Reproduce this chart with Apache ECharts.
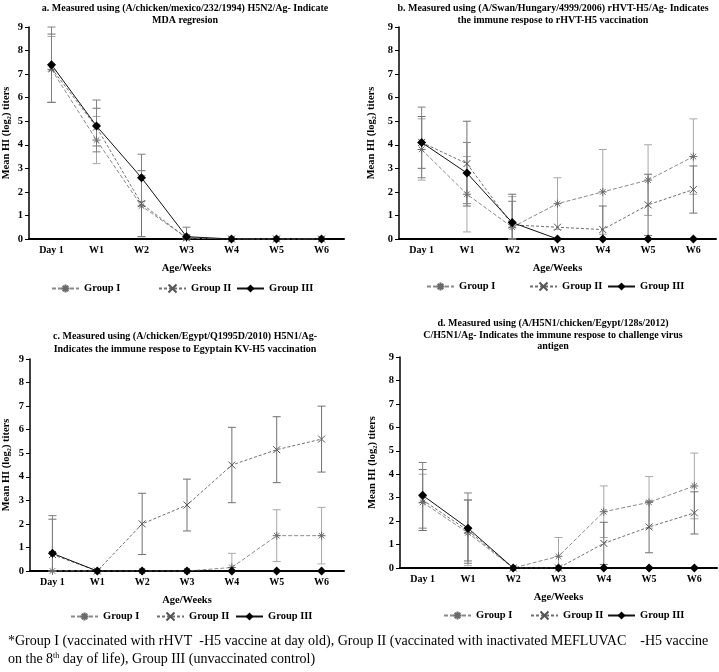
<!DOCTYPE html>
<html>
<head>
<meta charset="utf-8"/>
<title>HI titers</title>
<script src="https://cdn.jsdelivr.net/npm/echarts@6/dist/echarts.min.js"></script>
<style>
    html, body { margin: 0; padding: 0; background: #fff; }
    #main { width: 719px; height: 672px; }
</style>
</head>
<body>
<div id="main"></div>
<script>
    // x categories
    var weeks = ['Day 1', 'W1', 'W2', 'W3', 'W4', 'W5', 'W6'];
    var yTicks = [0, 1, 2, 3, 4, 5, 6, 7, 8, 9];

    // panel a - mean and error
    var aG1 = [7.2, 4.2, 1.4, 0.05, 0, 0, 0];
    var aG1Err = [1.4, 1.0, 1.3, 0, 0, 0, 0];
    var aG2 = [7.25, 4.75, 1.5, 0.05, 0, 0, 0];
    var aG2Err = [1.45, 0.8, 1.4, 0, 0, 0, 0];
    var aG3 = [7.4, 4.8, 2.6, 0.1, 0, 0, 0];
    var aG3Err = [1.6, 1.1, 1.0, 0.4, 0, 0, 0];

    // panel b
    var bG1 = [3.8, 1.9, 0.5, 1.5, 2.0, 2.5, 3.5];
    var bG1Err = [1.3, 1.6, 1.3, 1.1, 1.8, 1.5, 1.6];
    var bG2 = [4.1, 3.2, 0.6, 0.5, 0.4, 1.45, 2.1];
    var bG2Err = [1.1, 1.8, 1.3, 0, 1.0, 1.3, 1.0];
    var bG3 = [4.1, 2.8, 0.7, 0, 0, 0, 0];
    var bG3Err = [1.5, 1.3, 0.9, 0, 0, 0, 0];

    // panel c
    var cG1 = [0, 0, 0, 0, 0.15, 1.5, 1.5];
    var cG1Err = [0, 0, 0, 0, 0.6, 1.1, 1.2];
    var cG2 = [0.7, 0, 2.0, 2.8, 4.5, 5.15, 5.6];
    var cG2Err = [1.5, 0, 1.3, 1.1, 1.6, 1.4, 1.4];
    var cG3 = [0.75, 0, 0, 0, 0, 0, 0];
    var cG3Err = [1.6, 0, 0, 0, 0, 0, 0];

    // panel d
    var dG1 = [2.8, 1.5, 0, 0.5, 2.4, 2.8, 3.5];
    var dG1Err = [1.2, 1.4, 0, 0.8, 1.1, 1.1, 1.4];
    var dG2 = [2.9, 1.6, 0, 0, 1.05, 1.75, 2.35];
    var dG2Err = [1.3, 1.3, 0, 0, 0.9, 1.1, 0.9];
    var dG3 = [3.1, 1.7, 0, 0, 0, 0, 0];
    var dG3Err = [1.4, 1.5, 0, 0, 0, 0, 0];

    var serif = '"Liberation Serif", "DejaVu Serif", serif';
    var starPath = 'path://M0,5L10,5M5,0L5,10M1.5,1.5L8.5,8.5M8.5,1.5L1.5,8.5';
    var crossPath = 'path://M1,1L9,9M9,1L1,9';

    var grids = [
        {left: 27, top: 27, width: 317, height: 212},
        {left: 399, top: 27, width: 317, height: 212},
        {left: 27, top: 359, width: 317, height: 212},
        {left: 400, top: 357, width: 317, height: 211}
    ];
    var yNameGap = [17, 22, 18, 22];

    var xAxes = [], yAxes = [];
    grids.forEach(function (g, i) {
        xAxes.push({
            type: 'category', gridIndex: i, data: weeks,
            name: 'Age/Weeks', nameLocation: 'middle', nameGap: 24,
            nameTextStyle: {fontFamily: serif, fontWeight: 'bold', fontSize: 10.5, color: '#000'},
            axisLine: {lineStyle: {color: '#000', width: 2}},
            axisTick: {alignWithLabel: true, length: 4, lineStyle: {color: '#000'}},
            axisLabel: {fontFamily: serif, fontWeight: 'bold', fontSize: 10, color: '#000', margin: 6}
        });
        yAxes.push({
            type: 'value', gridIndex: i, min: 0, max: 9, interval: 1,
            name: 'Mean HI (log₂) titers', nameLocation: 'middle', nameGap: yNameGap[i],
            nameTextStyle: {fontFamily: serif, fontWeight: 'bold', fontSize: 10.5, color: '#000'},
            axisLine: {show: true, lineStyle: {color: '#000', width: 1.5}},
            axisTick: {show: true, length: 4, lineStyle: {color: '#000'}},
            axisLabel: {fontFamily: serif, fontWeight: 'bold', fontSize: 10.5, color: '#000', margin: 6},
            splitLine: {show: false}
        });
    });

    function errData(mean, err) {
        var out = [];
        mean.forEach(function (m, i) {
            if (err[i] > 0) out.push([i, Math.max(0, m - err[i]), m + err[i]]);
        });
        return out;
    }

    function errSeries(idx, mean, err, color) {
        return {
            type: 'custom', xAxisIndex: idx, yAxisIndex: idx, z: 1,
            data: errData(mean, err),
            encode: {x: 0, y: [1, 2]},
            silent: true,
            renderItem: function (params, api) {
                var lo = api.coord([api.value(0), api.value(1)]);
                var hi = api.coord([api.value(0), api.value(2)]);
                var c = 4;
                var st = {stroke: color, lineWidth: 1};
                return {
                    type: 'group', children: [
                        {type: 'line', shape: {x1: hi[0], y1: hi[1], x2: lo[0], y2: lo[1]}, style: st},
                        {type: 'line', shape: {x1: hi[0] - c, y1: hi[1], x2: hi[0] + c, y2: hi[1]}, style: st},
                        {type: 'line', shape: {x1: lo[0] - c, y1: lo[1], x2: lo[0] + c, y2: lo[1]}, style: st}
                    ]
                };
            }
        };
    }

    function lineSeries(idx, name, data) {
        var s = {name: name, type: 'line', xAxisIndex: idx, yAxisIndex: idx, data: data, z: 3};
        if (name === 'Group I') {
            s.symbol = starPath; s.symbolSize = 8;
            s.lineStyle = {color: '#8a8a8a', width: 1, type: [4, 2]};
            s.itemStyle = {color: 'rgba(0,0,0,0)', borderColor: '#6a6a6a', borderWidth: 1};
        } else if (name === 'Group II') {
            s.symbol = crossPath; s.symbolSize = 7;
            s.lineStyle = {color: '#6f6f6f', width: 1, type: [3, 2]};
            s.itemStyle = {color: 'rgba(0,0,0,0)', borderColor: '#555', borderWidth: 1};
        } else {
            s.symbol = 'diamond'; s.symbolSize = 9;
            s.lineStyle = {color: '#111', width: 1};
            s.itemStyle = {color: '#000'};
        }
        return s;
    }

    var panels = [
        [aG1, aG1Err, aG2, aG2Err, aG3, aG3Err],
        [bG1, bG1Err, bG2, bG2Err, bG3, bG3Err],
        [cG1, cG1Err, cG2, cG2Err, cG3, cG3Err],
        [dG1, dG1Err, dG2, dG2Err, dG3, dG3Err]
    ];
    var series = [];
    panels.forEach(function (p, i) {
        series.push(errSeries(i, p[0], p[1], '#a8a8a8'));
        series.push(errSeries(i, p[2], p[3], '#707070'));
        series.push(errSeries(i, p[4], p[5], '#808080'));
        series.push(lineSeries(i, 'Group I', p[0]));
        series.push(lineSeries(i, 'Group II', p[2]));
        series.push(lineSeries(i, 'Group III', p[4]));
    });

    // legend: one per item, text start positions per panel
    var legendTops = [278, 276, 606, 605];
    var legendLefts = [[46, 153, 231], [421, 524, 602], [65, 151, 230], [438, 525, 602]];
    var groupNames = ['Group I', 'Group II', 'Group III'];
    var legends = [];
    legendLefts.forEach(function (row, i) {
        row.forEach(function (l, j) {
            legends.push({
                data: [groupNames[j]], left: l, top: legendTops[i],
                itemWidth: 27, itemHeight: 10, itemGap: 5, selectedMode: false,
                textStyle: {fontFamily: serif, fontWeight: 'bold', fontSize: 10.5, color: '#000'}
            });
        });
    });

    var titleFont = 'bold 10px ' + serif;
    function tText(x, y, t) {
        return {type: 'text', x: x, y: y, style: {text: t, font: titleFont, fill: '#000', textAlign: 'center', textVerticalAlign: 'middle'}};
    }
    var graphics = [
        tText(185, 8, 'a. Measured using (A/chicken/mexico/232/1994) H5N2/Ag- Indicate'),
        tText(185, 20, 'MDA regresion'),
        tText(553, 8, 'b. Measured using (A/Swan/Hungary/4999/2006) rHVT-H5/Ag- Indicates'),
        tText(553, 20, 'the immune respose to rHVT-H5 vaccination'),
        tText(185, 336, 'c. Measured using (A/chicken/Egypt/Q1995D/2010) H5N1/Ag-'),
        tText(185, 349, 'Indicates the immune respose to Egyptain KV-H5 vaccination'),
        tText(553, 323, 'd. Measured using (A/H5N1/chicken/Egypt/128s/2012)'),
        tText(553, 335, 'C/H5N1/Ag- Indicates the immune respose to challenge virus'),
        tText(553, 346, 'antigen'),
        {
            type: 'text', x: 8, y: 634,
            style: {
                text: '*Group I (vaccinated with rHVT  -H5 vaccine at day old), Group II (vaccinated with inactivated MEFLUVAC    -H5 vaccine',
                font: '14px ' + serif, fill: '#000'
            }
        },
        {
            type: 'text', x: 8, y: 652,
            style: {
                text: 'on the 8{sup|th} day of life), Group III (unvaccinated control)',
                font: '14px ' + serif, fill: '#000',
                rich: {sup: {fontSize: 8, fontFamily: serif, verticalAlign: 'top', padding: [0, 0, 6, 0]}}
            }
        }
    ];

    var chart = echarts.init(document.getElementById('main'));
    chart.setOption({
        backgroundColor: '#fff',
        animation: false,
        grid: grids,
        xAxis: xAxes,
        yAxis: yAxes,
        legend: legends,
        series: series,
        graphic: graphics
    });
</script>
</body>
</html>
